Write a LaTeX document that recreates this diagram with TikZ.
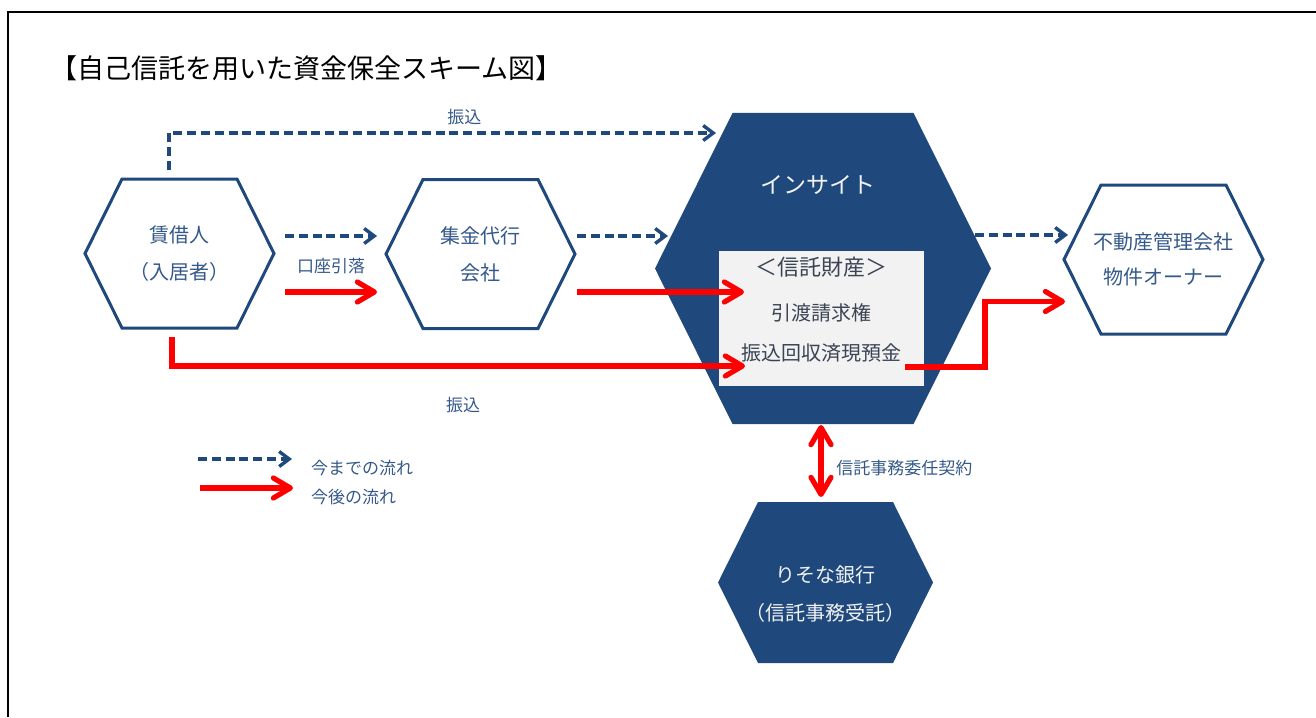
\documentclass[tikz,border=0pt]{standalone}
\usepackage{fontspec}
\setmainfont{Noto Sans CJK JP}
\usetikzlibrary{arrows.meta,calc}
\definecolor{navy}{HTML}{1F497D}
\definecolor{textblue}{HTML}{35598A}
\definecolor{boxgray}{HTML}{F2F2F2}
\definecolor{boxtext}{HTML}{3A4455}
\definecolor{flowred}{HTML}{FF0000}
% hexagon round a node: #1 node name, #2 slant of the side edges
\newcommand{\hexpath}[2]{(#1.west) -- ($(#1.north west)+(#2,0)$) -- ($(#1.north east)+(-#2,0)$) -- (#1.east) -- ($(#1.south east)+(-#2,0)$) -- ($(#1.south west)+(#2,0)$) -- cycle}

\begin{document}
\begin{tikzpicture}[x=0.5pt,y=-0.5pt,
    hexbox/.style={rectangle,inner sep=0pt,outer sep=0pt,align=center,text=textblue,font=\fontsize{10pt}{18.5pt}\selectfont},
    hexline/.style={draw=navy,fill=white,line width=1.5pt},
    lbl/.style={text=textblue,font=\fontsize{8.5pt}{10pt}\selectfont},
    oldflow/.style={draw=navy,line width=1.7pt,dash pattern=on 4.5pt off 2.4pt,-{Straight Barb[length=5pt,width=7.5pt]}},
    newflow/.style={draw=flowred,line width=2.6pt,-{Straight Barb[round,length=8.5pt,width=10pt]}}]
    \useasboundingbox (0,0) rectangle (1316,717);
    \draw[line width=1pt] (8,717)--(8,12)--(1316,12);
    \node[anchor=west,inner sep=0pt,font=\fontsize{13.5pt}{15pt}\selectfont] (title) at (50,68) {【自己信託を用いた資金保全スキーム図】};

    % parties
    \node[hexbox,minimum width=94.5pt,minimum height=74.5pt] (tenant) at (179.5,253.5) {};
    \draw[hexline] \hexpath{tenant}{37};
    \node[hexbox] (tenantText) at (tenant) {賃借人\\（入居者）};
    \node[hexbox,minimum width=94.5pt,minimum height=74.5pt] (agent) at (480.5,254) {};
    \draw[hexline] \hexpath{agent}{37};
    \node[hexbox] (agentText) at (agent) {集金代行\\会社};
    \node[hexbox,minimum width=99.5pt,minimum height=74.5pt] (owner) at (1163.5,259.5) {};
    \draw[hexline] \hexpath{owner}{37};
    \node[hexbox,font=\fontsize{10pt}{17.5pt}\selectfont] (ownerText) at (owner) {不動産管理会社\\物件オーナー};
    \node[hexbox,minimum width=168pt,minimum height=155.5pt] (insight) at (823,268.5) {};
    \fill[navy] \hexpath{insight}{77.5};
    \node[hexbox,text=boxgray,font=\fontsize{11.5pt}{14pt}\selectfont] (insightText) at (818,185) {インサイト};
    \node[fill=boxgray,inner sep=0pt,outer sep=0pt,minimum width=102.5pt,minimum height=67.5pt] (trust) at (821.5,318.5) {};
    \node[hexbox,text=boxtext,font=\fontsize{11pt}{13pt}\selectfont] (trustHead) at (821,267) {＜信託財産＞};
    \node[hexbox,text=boxtext] (trustClaim) at (821,313) {引渡請求権};
    \node[hexbox,text=boxtext] (trustCash) at (821,353) {振込回収済現預金};
    \node[hexbox,minimum width=107.5pt,minimum height=80.5pt] (bank) at (825.5,582.5) {};
    \fill[navy] \hexpath{bank}{40};
    \node[hexbox,text=boxgray,font=\fontsize{10pt}{19pt}\selectfont] (bankText) at (825,594) {りそな銀行\\（信託事務受託）};

    % flows up to now
    \draw[oldflow] ($(tenant.north)+(-10.5,-9)$) |- node[lbl,pos=0.77,above] (lblTop) {振込} ($(insight.north west)+(61,20)$);
    \draw[oldflow] ($(tenant.east)+(11,-17.5)$)--($(agent.west)+(-9,-18)$);
    \draw[oldflow] ($(agent.east)+(2,-18)$)--($(insight.west)+(13,-32.5)$);
    \draw[oldflow] ($(insight.east)+(-16,-33.5)$)--($(owner.west)+(4,-24.5)$);

    % flows from now on
    \draw[newflow] ($(tenant.east)+(11,38.5)$)--node[lbl,above=4.5pt] (lblDebit) {口座引落}($(agent.west)+(-9,38)$);
    \draw[newflow] ($(agent.east)+(2,38)$)--($(trust.west)+(25,-26.5)$);
    \draw[newflow] ($(tenant.south)+(-7.5,9)$) |- node[lbl,pos=0.754,below=11pt] (lblBottom) {振込} ($(trust.west)+(26,47.5)$);
    \draw[newflow] ($(trust.east)+(-19,48.5)$)--++(80,0) |- ($(owner.west)+(1,42)$);
    \draw[newflow,{Straight Barb[round,length=8.5pt,width=10pt]}-{Straight Barb[round,length=8.5pt,width=10pt]}] ($(insight.south)+(-2,1)$)--node[lbl,pos=0.6,right=3pt] (lblContract) {信託事務委任契約}($(bank.north)+(-4.5,-5)$);

    % legend
    \node[lbl,anchor=west] (legOld) at (304,468) {今までの流れ};
    \node[lbl,anchor=west] (legNew) at (304,497) {今後の流れ};
    \draw[oldflow] ($(legOld.west)+(-106,-9)$)--($(legOld.west)+(-12,-9)$);
    \draw[newflow] ($(legNew.west)+(-104,-9)$)--($(legNew.west)+(-11,-9)$);
\end{tikzpicture}
\end{document}
